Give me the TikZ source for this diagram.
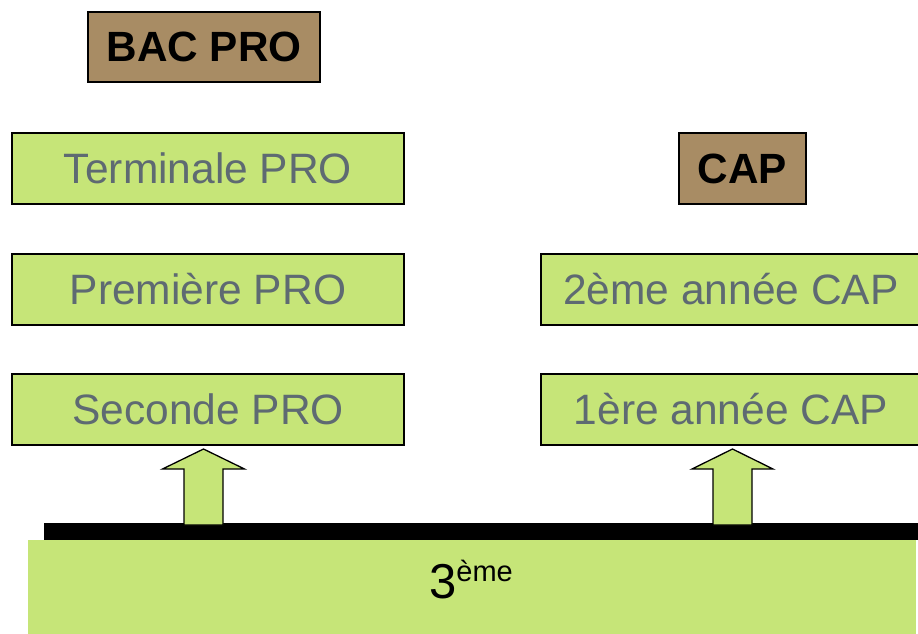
\documentclass[tikz,border=0pt]{standalone}
\usepackage{fontspec}
\setmainfont{Liberation Sans}
\definecolor{levelgreen}{RGB}{198,229,120}
\definecolor{diplomabrown}{RGB}{168,140,100}
\definecolor{levelgray}{RGB}{94,106,114}
\begin{document}
\begin{tikzpicture}[x=1pt, y=-1pt,
    level/.style ={rectangle, draw, line width=1.3pt, fill=levelgreen, text=levelgray,
                   inner sep=0pt, minimum height=71pt, font=\fontsize{42.5}{48}\selectfont},
    diploma/.style ={rectangle, draw, line width=1.3pt, fill=diplomabrown, text=black,
                   inner sep=0pt, minimum height=70pt, font=\bfseries\fontsize{42.3}{48}\selectfont},
    uparrow/.style ={draw, line width=1.3pt, fill=levelgreen, line join=miter}]
   \clip (0,0) rectangle (918,633);
   \useasboundingbox (0,0) rectangle (918,633);

   \node[diploma] (bac) at (204,47) [minimum width=232pt] {BAC PRO};
   \node[diploma] (cap) at (742.5,168.5) [minimum width=127pt, minimum height=71pt] {CAP};

   \node[level] (terminale) at (208,168.5) [minimum width=392pt] {Terminale PRO};
   \node[level] (premiere)  at (208,289.5) [minimum width=392pt] {Première PRO};
   \node[level] (seconde)   at (208,409.5) [minimum width=392pt] {Seconde PRO};

   \node[level] (capdeux) at (731,289.5) [minimum width=380pt] {2ème année CAP};
   \node[level] (capun)   at (731,409.5) [minimum width=380pt] {1ère année CAP};

   \node[rectangle, fill=black, inner sep=0pt, minimum width=876pt, minimum height=17pt] (socle) at (482,531.5) {};
   \node[rectangle, fill=levelgreen, inner sep=0pt, minimum width=888pt, minimum height=96pt] (troisieme) at (472,588) {};
   \node[font=\fontsize{49}{52}\selectfont] (troistxt) at (471,580) {3\raisebox{17pt}{\fontsize{29}{30}\selectfont ème}};

   \coordinate (pied1) at (203.5,525);
   \coordinate (pied2) at (732.5,525);
   \draw[uparrow] (pied1) ++(-19.5,0) -- ++(0,-56) -- ++(-21.5,0) -- ++(41,-20)
      -- ++(41,20) -- ++(-21.5,0) -- ++(0,56) -- cycle;
   \draw[uparrow] (pied2) ++(-19.5,0) -- ++(0,-56) -- ++(-21,0) -- ++(40.5,-20)
      -- ++(40.5,20) -- ++(-21,0) -- ++(0,56) -- cycle;
\end{tikzpicture}
\end{document}
